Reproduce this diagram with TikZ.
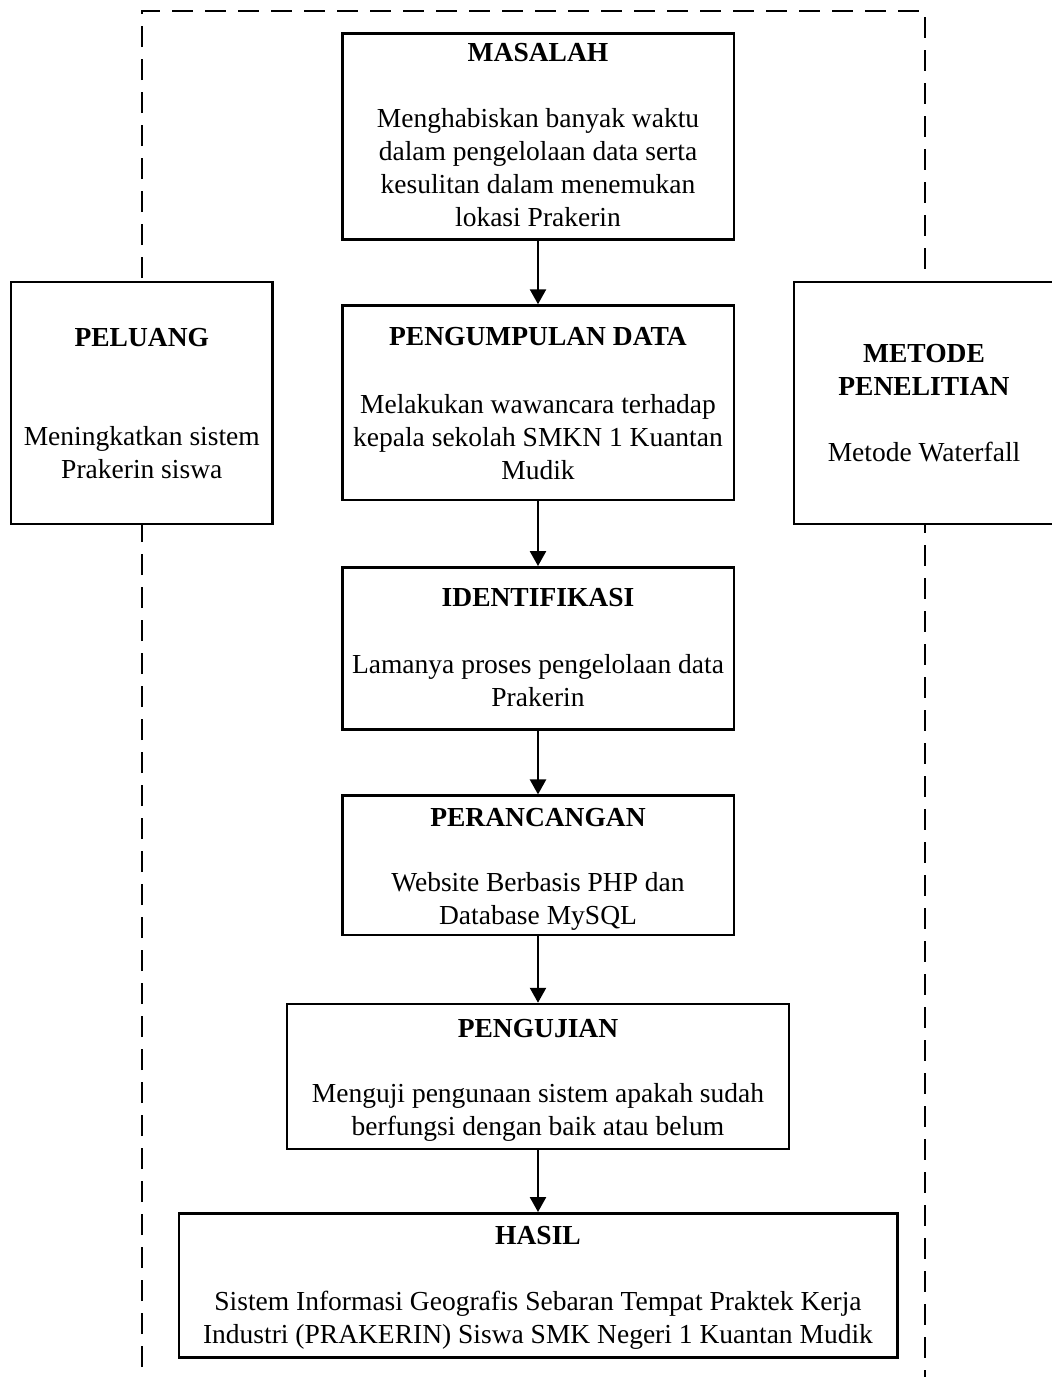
\documentclass[tikz,border=0pt]{standalone}
\usepackage{fontspec}
\setmainfont{Liberation Serif}
\usetikzlibrary{arrows.meta}
\begin{document}
\begin{tikzpicture}[x=0.5pt,y=-0.5pt,
  box/.style={draw, line width=1.25pt, fill=white, rectangle, inner sep=0pt},
  ttl/.style={anchor=base, inner sep=0pt, font=\fontsize{13.75pt}{16.5pt}\selectfont\bfseries, align=center},
  bdy/.style={anchor=base, inner sep=0pt, font=\fontsize{13.75pt}{16.5pt}\selectfont, align=center},
  frame/.style={draw, line width=1.2pt, dash pattern=on 10.5pt off 6pt},
  flow/.style={line width=1.25pt, -{Triangle[width=8pt,length=7.5pt]}}]
\useasboundingbox (0,0) rectangle (1051,1377);
% dashed frame
\draw[frame] (142,1400) -- (142,11) -- (925,11) -- (925,1400);
% boxes
\node[box, minimum width=195.75pt, minimum height=103pt] (masalah) at (538,136.3) {};
\node[box, minimum width=195.75pt, minimum height=97.25pt] (pengumpulan) at (538,402.75) {};
\node[box, minimum width=130.85pt, minimum height=121pt] (peluang) at (141.8,403) {};
\node[box, minimum width=130pt, minimum height=121pt] (metode) at (924,403) {};
\node[box, minimum width=195.75pt, minimum height=81pt] (identifikasi) at (538,648.3) {};
\node[box, minimum width=195.75pt, minimum height=69.65pt] (perancangan) at (538,865.3) {};
\node[box, minimum width=251pt, minimum height=72.5pt] (pengujian) at (538,1076.5) {};
\node[box, minimum width=359.25pt, minimum height=72pt] (hasil) at (538,1285.3) {};
% texts (multi-line nodes: base = last line's baseline)
\node[ttl] (t1) at (538,61.7) {MASALAH};
\node[bdy] (b1) at (538,226.7) {Menghabiskan banyak waktu\\dalam pengelolaan data serta\\kesulitan dalam menemukan\\lokasi Prakerin};
\node[ttl] (t2) at (538,345) {PENGUMPULAN DATA};
\node[bdy] (b2) at (538,479) {Melakukan wawancara terhadap\\kepala sekolah SMKN 1 Kuantan\\Mudik};
\node[ttl] (t3) at (141.8,346) {PELUANG};
\node[bdy] (b3) at (141.8,478) {Meningkatkan sistem\\Prakerin siswa};
\node[ttl] (t4) at (924,395) {METODE\\PENELITIAN};
\node[bdy] (b4) at (924,461.7) {Metode Waterfall};
\node[ttl] (t5) at (538,606.7) {IDENTIFIKASI};
\node[bdy] (b5) at (538,706.7) {Lamanya proses pengelolaan data\\Prakerin};
\node[ttl] (t6) at (538,826.7) {PERANCANGAN};
\node[bdy] (b6) at (538,924.3) {Website Berbasis PHP dan\\Database MySQL};
\node[ttl] (t7) at (538,1037) {PENGUJIAN};
\node[bdy] (b7) at (538,1135) {Menguji pengunaan sistem apakah sudah\\berfungsi dengan baik atau belum};
\node[ttl] (t8) at (538,1244) {HASIL};
\node[bdy] (b8) at (538,1343.3) {Sistem Informasi Geografis Sebaran Tempat Praktek Kerja\\Industri (PRAKERIN) Siswa SMK Negeri 1 Kuantan Mudik};
% arrows
\draw[flow] (masalah.south) -- (pengumpulan.north);
\draw[flow] (pengumpulan.south) -- (identifikasi.north);
\draw[flow] (identifikasi.south) -- (perancangan.north);
\draw[flow] (perancangan.south) -- (pengujian.north);
\draw[flow] (pengujian.south) -- (hasil.north);
\end{tikzpicture}
\end{document}
